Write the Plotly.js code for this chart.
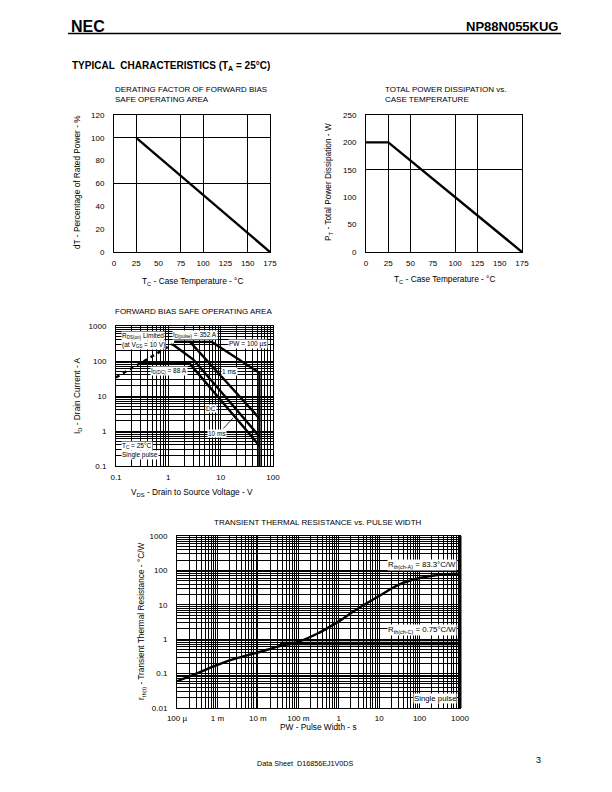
<!DOCTYPE html>
<html><head><meta charset="utf-8">
<script src="https://cdn.plot.ly/plotly-3.0.1.min.js"></script>
<style>html,body{margin:0;padding:0;background:#fff}#c{width:612px;height:792px}</style>
</head><body><div id="c"></div>
<script>
// ---- data ----
const derateTemp = [25, 175];
const deratePct = [100, 0];
const powerTemp = [0, 25, 175];
const powerW = [200, 200, 0];
const tempTicks = [0, 25, 50, 75, 100, 125, 150, 175];

const soaRdsV = [0.1, 1.2];
const soaRdsI = [34, 300];
const soa100usV = [1.3, 6.8, 55, 55];
const soa100usI = [352, 352, 46, 0.1];
const soa1msV = [1.3, 2.6, 55];
const soa1msI = [352, 352, 2.3];
const soa10msV = [1.2, 3.0, 55];
const soa10msI = [300, 110, 0.7];
const soaDcV = [0.3, 2.5, 55];
const soaDcI = [88, 88, 0.38];

const thermT = [1e-4, 3e-4, 1e-3, 3e-3, 1e-2, 3e-2, 0.1, 0.3, 1, 3, 10, 30, 100, 300, 1000];
const thermR = [0.06, 0.1, 0.18, 0.28, 0.41, 0.6, 0.84, 1.46, 3.3, 7.8, 18, 38, 60, 75, 80];
const rthChCT = [0.035, 1000];
const rthChCR = [0.75, 0.75];
const pwTickVals = [1e-4, 1e-3, 1e-2, 1e-1, 1, 10, 100, 1000];
const pwTickText = ['100 µ', '1 m', '10 m', '100 m', '1', '10', '100', '1000'];

// ---- layout helpers ----
const W = 612, H = 792;
const F = 'Liberation Sans, Arial, Helvetica, sans-serif';
const dx = (a, b) => [a / W, b / W];
const dy = (t, b) => [(H - b) / H, (H - t) / H];
function ann(text, px, py, o) {
  return Object.assign({text: text, x: px / W, y: 1 - py / H, xref: 'paper', yref: 'paper',
    showarrow: false, font: {family: F, size: 8, color: '#000'}, xanchor: 'center', yanchor: 'middle'}, o || {});
}
const fnt = s => ({family: F, size: s, color: '#000'});
const base = {showline: true, mirror: true, linecolor: '#000', linewidth: 1, zeroline: false,
  ticks: '', tickfont: fnt(8), gridcolor: '#000', gridwidth: 1, fixedrange: true};
function ax(extra) { return Object.assign({}, base, extra); }
const logMinor = {dtick: 'D1', showgrid: true, gridcolor: '#000', gridwidth: 1, ticks: ''};

const lineStyle = {color: '#000', width: 2.4};
const traces = [
  {x: derateTemp, y: deratePct, xaxis: 'x', yaxis: 'y', mode: 'lines', line: lineStyle},
  {x: powerTemp, y: powerW, xaxis: 'x2', yaxis: 'y2', mode: 'lines', line: lineStyle},
  {x: soaRdsV, y: soaRdsI, xaxis: 'x3', yaxis: 'y3', mode: 'lines', line: {color: '#000', width: 2.4, dash: '4px,4px'}},
  {x: soa100usV, y: soa100usI, xaxis: 'x3', yaxis: 'y3', mode: 'lines', line: lineStyle},
  {x: soa1msV, y: soa1msI, xaxis: 'x3', yaxis: 'y3', mode: 'lines', line: lineStyle},
  {x: soa10msV, y: soa10msI, xaxis: 'x3', yaxis: 'y3', mode: 'lines', line: lineStyle},
  {x: soaDcV, y: soaDcI, xaxis: 'x3', yaxis: 'y3', mode: 'lines', line: lineStyle},
  {x: rthChCT, y: rthChCR, xaxis: 'x4', yaxis: 'y4', mode: 'lines', line: {color: '#000', width: 3.5}},
  {x: thermT, y: thermR, xaxis: 'x4', yaxis: 'y4', mode: 'lines', line: {color: '#000', width: 2.4, shape: 'spline', smoothing: 1}}
];

const small = 6.5;
const lbl = (t, px, py, o) => ann(t, px, py, Object.assign({xanchor: 'left', bgcolor: '#fff', borderpad: 0, font: fnt(small)}, o || {}));

const layout = {
  width: W, height: H, margin: {l: 0, r: 0, t: 0, b: 0}, showlegend: false,
  paper_bgcolor: '#fff', plot_bgcolor: '#fff', font: {family: F, color: '#000'},
  xaxis: ax({domain: dx(114, 270), anchor: 'y', range: [0, 175], tickmode: 'array', tickvals: tempTicks,
    showgrid: false, ticklabelstandoff: 3, minor: {tickmode: 'array', tickvals: [25, 75, 100, 150], showgrid: true, gridcolor: '#000', gridwidth: 1, ticks: ''}}),
  yaxis: ax({domain: dy(115, 252), anchor: 'x', range: [0, 120], dtick: 20, showgrid: false, ticklabelstandoff: 7,
    minor: {tickmode: 'array', tickvals: [60, 100], showgrid: true, gridcolor: '#000', gridwidth: 1, ticks: ''}}),
  xaxis2: ax({domain: dx(366, 522), anchor: 'y2', range: [0, 175], tickmode: 'array', tickvals: tempTicks,
    showgrid: false, ticklabelstandoff: 3, minor: {tickmode: 'array', tickvals: [25, 50, 100, 125], showgrid: true, gridcolor: '#000', gridwidth: 1, ticks: ''}}),
  yaxis2: ax({domain: dy(115, 252), anchor: 'x2', range: [0, 250], dtick: 50, showgrid: false, ticklabelstandoff: 7,
    minor: {tickmode: 'array', tickvals: [150], showgrid: true, gridcolor: '#000', gridwidth: 1, ticks: ''}}),
  xaxis3: ax({domain: dx(116, 273), anchor: 'y3', type: 'log', range: [-1, 2], tickmode: 'array',
    tickvals: [0.1, 1, 10, 100], ticktext: ['0.1', '1', '10', '100'], showgrid: true, ticklabelstandoff: 3, minor: logMinor}),
  yaxis3: ax({domain: dy(326, 466), anchor: 'x3', type: 'log', range: [-1, 3], tickmode: 'array',
    tickvals: [0.1, 1, 10, 100, 1000], ticktext: ['0.1', '1', '10', '100', '1000'], showgrid: true, ticklabelstandoff: 7, minor: logMinor}),
  xaxis4: ax({domain: dx(177, 460), anchor: 'y4', type: 'log', range: [-4, 3], tickmode: 'array',
    tickvals: pwTickVals, ticktext: pwTickText, showgrid: true, ticklabelstandoff: 2, minor: logMinor}),
  yaxis4: ax({domain: dy(536, 708), anchor: 'x4', type: 'log', range: [-2, 3], tickmode: 'array',
    tickvals: [0.01, 0.1, 1, 10, 100, 1000], ticktext: ['0.01', '0.1', '1', '10', '100', '1000'], showgrid: true, ticklabelstandoff: 7, minor: logMinor}),
  shapes: [
    {type: 'line', xref: 'paper', yref: 'paper', x0: 68 / W, x1: 561 / W, y0: 1 - 33.5 / H, y1: 1 - 33.5 / H, line: {color: '#000', width: 1.5}},
    {type: 'line', xref: 'x4 domain', yref: 'y4 domain', x0: 1, x1: 1, y0: 0, y1: 1, line: {color: '#000', width: 3}}
  ],
  annotations: [
    ann('<b>NEC</b>', 69, 26, {xanchor: 'left', font: fnt(16)}),
    ann('<b>NP88N055KUG</b>', 561, 27, {xanchor: 'right', font: fnt(13)}),
    ann('<b>TYPICAL\u00a0\u00a0CHARACTERISTICS (T<sub>A</sub> = 25°C)</b>', 70, 66, {xanchor: 'left', font: fnt(10)}),
    // chart 1
    ann('DERATING FACTOR OF FORWARD BIAS<br>SAFE OPERATING AREA', 113, 94, {xanchor: 'left', align: 'left'}),
    ann('dT - Percentage of Rated Power - %', 77, 182, {textangle: -90, font: fnt(8.3)}),
    ann('T<sub>C</sub> - Case Temperature - °C', 192, 281, {font: fnt(8.3)}),
    // chart 2
    ann('TOTAL POWER DISSIPATION vs.<br>CASE TEMPERATURE', 383, 94, {xanchor: 'left', align: 'left'}),
    ann('P<sub>T</sub> - Total Power Dissipation - W', 329, 182, {textangle: -90, font: fnt(8.3)}),
    ann('T<sub>C</sub> - Case Temperature - °C', 444, 279, {font: fnt(8.3)}),
    // chart 3
    ann('FORWARD BIAS SAFE OPERATING AREA', 113, 311, {xanchor: 'left'}),
    ann('I<sub>D</sub> - Drain Current - A', 77, 396, {textangle: -90, font: fnt(8.3)}),
    ann('V<sub>DS</sub> - Drain to Source Voltage - V', 192, 492, {font: fnt(8.3)}),
    lbl('R<sub>DS(on)</sub> Limited', 121, 336),
    lbl('(at V<sub>GS</sub> = 10 V)', 121, 345),
    lbl('I<sub>D(pulse)</sub> = 352 A', 172, 335),
    lbl('PW = 100 µs', 228, 344),
    lbl('I<sub>D(DC)</sub> = 88 A', 150, 371),
    lbl('1 ms', 221, 371),
    lbl('DC', 205, 408),
    {text: '', x: 233 / W, y: 1 - 418 / H, xref: 'paper', yref: 'paper', showarrow: true, arrowhead: 0,
      arrowwidth: 0.8, arrowcolor: '#000', ax: -11, ay: 12, standoff: 0},
    lbl('10 ms', 207, 433),
    lbl('T<sub>C</sub> = 25°C', 121, 446),
    lbl('Single pulse', 121, 455),
    // chart 4
    ann('TRANSIENT THERMAL RESISTANCE vs. PULSE WIDTH', 318, 522),
    ann('r<sub>th(t)</sub> - Transient Thermal Resistance - °C/W', 141, 622, {textangle: -90, font: fnt(8.3)}),
    ann('PW - Pulse Width - s', 318, 727, {font: fnt(8.3)}),
    lbl('R<sub>th(ch-A)</sub> = 83.3°C/W', 457, 565, {xanchor: 'right', font: fnt(7.8)}),
    lbl('R<sub>th(ch-C)</sub> = 0.75°C/W', 457, 630, {xanchor: 'right', font: fnt(7.8)}),
    lbl('Single pulse', 457, 698, {xanchor: 'right', font: fnt(7.8)}),
    // footer
    ann('Data Sheet\u00a0\u00a0D16856EJ1V0DS', 305, 763, {font: fnt(7.2)}),
    ann('3', 538, 760, {font: fnt(9)})
  ]
};
Plotly.newPlot('c', traces, layout, {staticPlot: true, displayModeBar: false});
</script></body></html>
